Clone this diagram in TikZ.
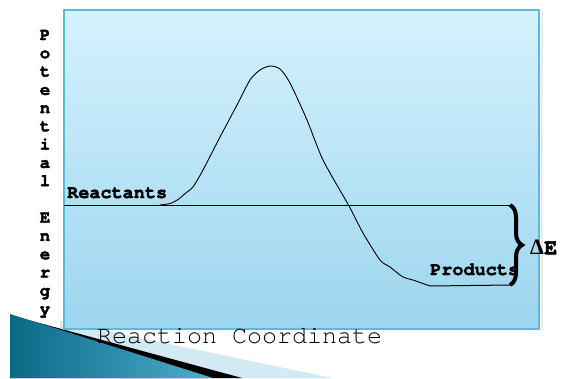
\documentclass[tikz,border=0pt]{standalone}
\usepackage{fontspec}
\setmonofont{texgyrecursor-regular.otf}[BoldFont=texgyrecursor-bold.otf, BoldFeatures={FakeBold=2.2}]
\newfontfamily\deltafont{Liberation Serif}
\usetikzlibrary{decorations.pathreplacing}
\definecolor{boxtop}{HTML}{D5F2FE}
\definecolor{boxbot}{HTML}{9CD5EE}
\definecolor{boxedge}{HTML}{5BBAD8}
\definecolor{tealdark}{HTML}{0A6A86}
\definecolor{teallight}{HTML}{4DAECD}
\definecolor{palewedge}{HTML}{D2EAF3}
\tikzset{
  lbl/.style={inner sep=0pt, font=\ttfamily\bfseries\fontsize{18.5}{20}\selectfont},
  axlbl/.style={inner sep=0pt, anchor=base, font=\ttfamily\bfseries\fontsize{17.5}{18}\selectfont},
  curveline/.style={line width=0.9pt, black},
  level/.style={line width=1pt, black}
}
\begin{document}
\begin{tikzpicture}[x=1pt,y=-1pt]
\useasboundingbox (0,0) rectangle (561,378);
\fill[white] (0,0) rectangle (561,378);
% decoration bottom-left
\fill[palewedge] (60,321) -- (332,378) -- (60,378) -- cycle;
\fill[black] (10,315) -- (242,378) -- (10,378) -- cycle;
\shade[left color=tealdark, right color=teallight] (10,314) -- (213,378) -- (10,378) -- cycle;
% box shadow
\fill[black!8] (541,12) rectangle (543,331);
% box
\shade[top color=boxtop, bottom color=boxbot, draw=boxedge, line width=1.5pt] (64,10) rectangle (539,329);
% levels
\coordinate (rl) at (64,205);
\coordinate (rr) at (510,205);
\coordinate (pl) at (430,286);
\coordinate (pr) at (510,285);
\draw[level] (rl) -- (rr);
\draw[level] (pl) -- (pr);
% energy curve
\draw[curveline] plot[smooth, tension=0.45] coordinates {
 (160,205) (170,203.5) (178,199.5) (187,192) (193,187) (203,170) (220,137)
 (237,105) (250,80) (260,70) (270,66) (280,69) (290,83) (307,120)
 (323,160) (349,206) (363,233) (380,260) (390,267) (403,277) (413,280) (430,286)};
% brace
\draw[line width=4pt, decorate, decoration={brace, amplitude=12pt, aspect=0.5}] (rr) -- (pr);
\node[inner sep=0pt, anchor=west, font=\fontsize{22}{24}\selectfont] (dE) at (530,247) {{\deltafont\bfseries Δ}{\ttfamily\bfseries E}};
% labels
\node[lbl, anchor=base west] (react) at (67,198) {Reactants};
\node[lbl, anchor=base west] (prod) at (430,275) {Products};
\node[inner sep=0pt, anchor=base west, font=\ttfamily\fontsize{25}{27}\selectfont] (xlab) at (97,343) {Reaction Coordinate};
\foreach \c [count=\i] in {P,o,t,e,n,t,i,a,l,{},E,n,e,r,g,y}
  \node[axlbl] (y\i) at (45,{40+(\i-1)*18.27}) {\c};
\end{tikzpicture}
\end{document}
